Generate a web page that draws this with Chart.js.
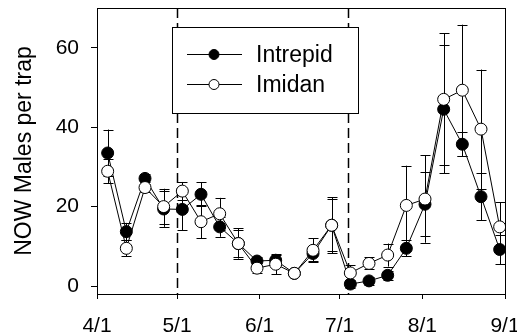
<!DOCTYPE html>
<html>
<head>
<meta charset="utf-8">
<script src="https://cdn.jsdelivr.net/npm/chart.js@4.4.1/dist/chart.umd.min.js"></script>
<style>
  html, body { margin: 0; padding: 0; background: #fff; }
  #wrap { width: 517px; height: 335px; }
</style>
</head>
<body>
<div id="wrap"><canvas id="myChart" width="517" height="335"></canvas></div>
<script>
// days counted from 4/1
const sampleDays = [4, 11, 18, 25, 32, 39, 46, 53, 60, 67, 74, 81, 88, 95, 102, 109, 116, 123, 130, 137, 144, 151];
const intrepid    = [33.5, 13.7, 27.1, 19.4, 19.3, 23.1, 14.9, 10.7, 6.3, 6.5, 3.2, 8.2, 15.3, 0.5, 1.3, 2.7, 9.5, 20.6, 44.5, 35.7, 22.5, 9.2];
const intrepidErr = [5.9, 2.2, 1.0, 4.5, 5.2, 3.0, 2.5, 3.8, 1.0, 1.2, 0.5, 2.0, 7.0, 1.0, 1.0, 1.2, 2.0, 8.0, 16.1, 3.0, 5.9, 3.7];
const imidan      = [28.9, 9.5, 24.8, 20.0, 23.9, 16.2, 18.2, 10.7, 4.5, 5.5, 3.2, 9.0, 15.3, 3.3, 5.7, 7.8, 20.3, 21.9, 47.0, 49.3, 39.5, 14.9];
const imidanErr   = [3.0, 2.0, 1.0, 4.5, 2.3, 4.2, 4.0, 3.5, 1.2, 2.5, 0.5, 3.0, 6.5, 2.0, 1.5, 2.9, 10.0, 11.0, 16.6, 16.5, 15.0, 6.2];
const tickDays   = [0, 30, 61, 91, 122, 153];
const tickLabels = ['4/1', '5/1', '6/1', '7/1', '8/1', '9/1'];
const yTicks     = [0, 20, 40, 60];
const sprayDays  = [30, 94];

const FONT = "'Liberation Sans', Arial, sans-serif";

function toXY(vals) {
  return vals.map((v, i) => ({ x: sampleDays[i], y: v }));
}

// error bars, dashed spray lines, frame and legend box
const extras = {
  id: 'extras',
  beforeDatasetsDraw(chart) {
    const ctx = chart.ctx, xs = chart.scales.x, ys = chart.scales.y, a = chart.chartArea;
    ctx.save();
    ctx.strokeStyle = '#000';
    ctx.lineWidth = 1.5;
    ctx.setLineDash([10, 5]);
    sprayDays.forEach(d => {
      const px = Math.round(xs.getPixelForValue(d)) + 0.5;
      ctx.beginPath();
      ctx.moveTo(px, a.top);
      ctx.lineTo(px, a.bottom);
      ctx.stroke();
    });
    ctx.setLineDash([]);
    ctx.lineWidth = 1;
    chart.data.datasets.forEach(ds => {
      ds.data.forEach((p, i) => {
        const e = ds.errors[i];
        const px = Math.round(xs.getPixelForValue(p.x)) + 0.5;
        const top = ys.getPixelForValue(p.y + e);
        const bot = ys.getPixelForValue(p.y - e);
        ctx.beginPath();
        ctx.moveTo(px, top); ctx.lineTo(px, bot);
        ctx.moveTo(px - 5, Math.round(top) + 0.5); ctx.lineTo(px + 5, Math.round(top) + 0.5);
        ctx.moveTo(px - 5, Math.round(bot) + 0.5); ctx.lineTo(px + 5, Math.round(bot) + 0.5);
        ctx.stroke();
      });
    });
    ctx.restore();
  },
  afterDraw(chart) {
    const ctx = chart.ctx, a = chart.chartArea;
    ctx.save();
    ctx.strokeStyle = '#000';
    ctx.lineWidth = 1;
    ctx.strokeRect(Math.round(a.left) + 0.5, Math.round(a.top) + 0.5,
                   Math.round(a.right - a.left), Math.round(a.bottom - a.top));
    // legend box
    ctx.fillStyle = '#fff';
    ctx.fillRect(172, 27, 186, 86);
    ctx.strokeRect(172.5, 27.5, 186, 86);
    const rows = [chart.data.datasets[1], chart.data.datasets[0]];
    rows.forEach((ds, i) => {
      const y = 54.5 + i * 30;
      ctx.beginPath();
      ctx.moveTo(187, y); ctx.lineTo(242, y);
      ctx.stroke();
      ctx.beginPath();
      ctx.arc(214, y, 5, 0, Math.PI * 2);
      ctx.fillStyle = ds.pointBackgroundColor;
      ctx.fill();
      ctx.stroke();
      ctx.fillStyle = '#000';
      ctx.font = '23px ' + FONT;
      ctx.textBaseline = 'middle';
      ctx.fillText(ds.label, 256, y + 1);
    });
    ctx.restore();
  }
};

Chart.defaults.color = '#000000';
Chart.defaults.font.family = FONT;
const ctx = document.getElementById('myChart').getContext('2d');
const myChart = new Chart(ctx, {
  type: 'line',
  data: {
    datasets: [{
      label: 'Imidan',
      data: toXY(imidan),
      errors: imidanErr,
      borderColor: '#000',
      borderWidth: 1,
      pointRadius: 6,
      pointBorderWidth: 1,
      pointBackgroundColor: '#fff',
      pointBorderColor: '#000',
      order: 0
    }, {
      label: 'Intrepid',
      data: toXY(intrepid),
      errors: intrepidErr,
      borderColor: '#000',
      borderWidth: 1,
      pointRadius: 6,
      pointBorderWidth: 1,
      pointBackgroundColor: '#000',
      pointBorderColor: '#000',
      order: 1
    }]
  },
  options: {
    responsive: false,
    animation: false,
    layout: { padding: { left: 0, right: 12, top: 8, bottom: 0 } },
    plugins: { legend: { display: false }, tooltip: { enabled: false } },
    scales: {
      x: {
        type: 'linear',
        min: 0,
        max: 153,
        afterBuildTicks: s => { s.ticks = tickDays.map(v => ({ value: v })); },
        afterFit: s => { s.height = 41; s.paddingLeft = 0; s.paddingRight = 0; },
        ticks: {
          callback: v => tickLabels[tickDays.indexOf(v)],
          font: { size: 21 },
          padding: 15,
          maxRotation: 0,
          autoSkip: false
        },
        grid: { drawOnChartArea: false, tickLength: 5, color: '#000' },
        border: { color: '#000' }
      },
      y: {
        min: -2,
        max: 70,
        afterBuildTicks: s => { s.ticks = yTicks.map(v => ({ value: v })); },
        afterFit: s => { s.width = 97; s.paddingTop = 0; s.paddingBottom = 0; },
        ticks: { font: { size: 21 }, padding: 12 },
        grid: { drawOnChartArea: false, tickLength: 6, color: '#000' },
        border: { color: '#000' },
        title: { display: true, text: 'NOW Males per trap', font: { size: 23 }, padding: { top: 11, bottom: 0 } }
      }
    }
  },
  plugins: [extras]
});
</script>
</body>
</html>
